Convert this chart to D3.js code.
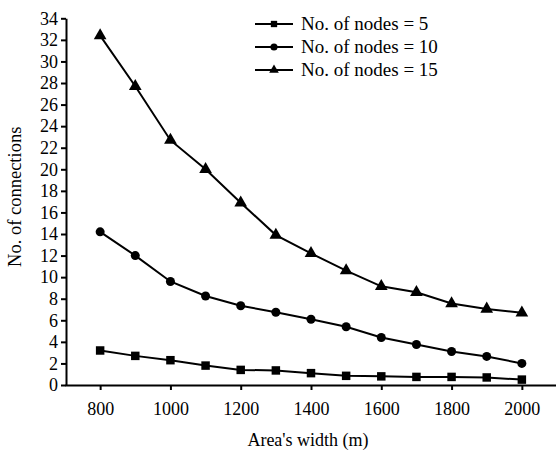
<!DOCTYPE html>
<html>
<head>
<meta charset="utf-8">
<script src="https://cdn.jsdelivr.net/npm/d3@7"></script>
<style>
  html, body { margin: 0; padding: 0; background: #fff; }
  svg { display: block; }
</style>
</head>
<body>
<svg id="chart" width="556" height="454"></svg>
<script>
// Area width (m) on the horizontal axis
const widths = [800, 900, 1000, 1100, 1200, 1300, 1400, 1500, 1600, 1700, 1800, 1900, 2000];

// Number of connections for each node count
const nodes5  = [3.2, 2.7, 2.3, 1.8, 1.4, 1.35, 1.1, 0.85, 0.8, 0.75, 0.75, 0.7, 0.5];
const nodes10 = [14.2, 12.0, 9.6, 8.25, 7.35, 6.75, 6.1, 5.4, 4.4, 3.75, 3.1, 2.65, 2.0];
const nodes15 = [32.4, 27.7, 22.7, 20.0, 16.9, 13.9, 12.2, 10.6, 9.15, 8.6, 7.55, 7.05, 6.7];

const seriesNames = ["No. of nodes = 5", "No. of nodes = 10", "No. of nodes = 15"];

const xTicks = [800, 1000, 1200, 1400, 1600, 1800, 2000];
const yTicks = d3.range(0, 35, 2);

const FONT = '"Liberation Serif"';

const svg = d3.select("#chart");

const x = d3.scaleLinear().domain([700, 2100]).range([65, 557]);
const y = d3.scaleLinear().domain([0, 34]).range([385, 18.3]);

// Axes
const xAxis = svg.append("g")
  .attr("transform", `translate(0,${y(0)})`)
  .call(d3.axisBottom(x).tickValues(xTicks).tickSize(5).tickSizeOuter(0).tickPadding(12).tickFormat(d3.format("d")));
const yAxis = svg.append("g")
  .attr("transform", `translate(${x(700) + 1},0)`)
  .call(d3.axisLeft(y).tickValues(yTicks).tickSize(5).tickSizeOuter(0).tickPadding(3).tickFormat(d3.format("d")));

[xAxis, yAxis].forEach(g => {
  g.attr("font-family", null).attr("font-size", null);
  g.select(".domain").attr("stroke", "#000").attr("stroke-width", 2);
  g.selectAll(".tick line").attr("stroke", "#000").attr("stroke-width", 2);
  g.selectAll(".tick text")
    .style("font-family", FONT)
    .style("font-size", "18px")
    .attr("fill", "#000");
});

// Axis titles
svg.append("text")
  .attr("x", x(1400) - 3)
  .attr("y", 446)
  .attr("text-anchor", "middle")
  .style("font-family", FONT)
  .style("font-size", "18px")
  .text("Area's width (m)");

svg.append("text")
  .attr("transform", `translate(21,${y(17.45)}) rotate(-90)`)
  .attr("text-anchor", "middle")
  .style("font-family", FONT)
  .style("font-size", "18.5px")
  .text("No. of connections");

// Marker drawing
const symbolTypes = [d3.symbolSquare, d3.symbolCircle, d3.symbolTriangle];
const symbolSizes = [72, 64, 70];

const allSeries = [nodes5, nodes10, nodes15];
const line = d3.line().x((d, i) => x(widths[i])).y(d => y(d));

allSeries.forEach((vals, s) => {
  const g = svg.append("g");
  g.append("path")
    .datum(vals)
    .attr("d", line)
    .attr("fill", "none")
    .attr("stroke", "#000")
    .attr("stroke-width", 2);
  g.selectAll("path.m")
    .data(vals)
    .join("path")
    .attr("class", "m")
    .attr("transform", (d, i) => `translate(${x(widths[i])},${y(d)})`)
    .attr("d", d3.symbol().type(symbolTypes[s]).size(symbolSizes[s]))
    .attr("fill", "#000");
});

// Legend
const legend = svg.append("g");
seriesNames.forEach((name, i) => {
  const ly = 24 + i * 23;
  legend.append("line")
    .attr("x1", 255).attr("x2", 293)
    .attr("y1", ly).attr("y2", ly)
    .attr("stroke", "#000").attr("stroke-width", 2);
  legend.append("path")
    .attr("transform", `translate(274,${ly})`)
    .attr("d", d3.symbol().type(symbolTypes[i]).size(40))
    .attr("fill", "#000");
  legend.append("text")
    .attr("x", 301)
    .attr("y", ly + 6)
    .style("font-family", FONT)
    .style("font-size", "19px")
    .text(name);
});
</script>
</body>
</html>
